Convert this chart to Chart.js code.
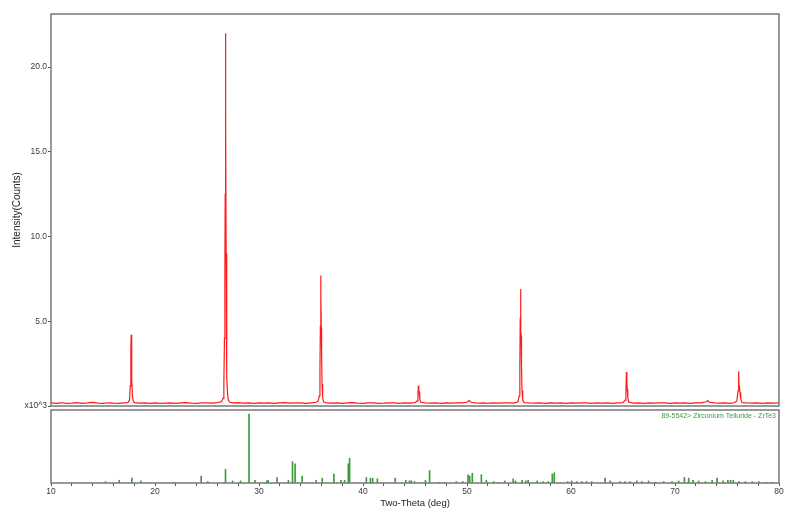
<!DOCTYPE html>
<html>
<head>
<meta charset="utf-8">
<script src="https://cdn.jsdelivr.net/npm/chart.js@4"></script>
<style>
  body { margin: 0; background: #fff; }
  #wrap { position: relative; width: 800px; height: 514px; }
  #topChart { position: absolute; left: 0; top: 0; }
  #bottomChart { position: absolute; left: 0; top: 408px; }
</style>
</head>
<body>
<div id="wrap">
  <canvas id="topChart" width="800" height="420"></canvas>
  <canvas id="bottomChart" width="800" height="106"></canvas>
</div>
<script>
// Measured pattern: two-theta (deg) and intensity (x10^3 counts)
const twoTheta = [
  10.0, 10.5, 11.0, 11.5, 12.0, 12.5, 13.0, 13.5, 14.0, 14.5, 15.0, 15.5, 16.0, 16.5, 17.0, 17.4,
  17.55, 17.62, 17.68, 17.71, 17.74, 17.78, 17.83, 17.9, 18.0,
  18.5, 19.0, 19.5, 20.0, 20.5, 21.0, 21.5, 22.0, 22.5, 23.0, 23.5, 24.0, 24.5, 25.0, 25.5, 26.0, 26.4,
  26.55, 26.62, 26.68, 26.72, 26.75, 26.77, 26.79, 26.81, 26.84, 26.87, 26.92, 26.98, 27.05, 27.2,
  27.5, 28.0, 28.5, 29.0, 29.5, 30.0, 30.5, 31.0, 31.5, 32.0, 32.5, 33.0, 33.5, 34.0, 34.5, 35.0, 35.5, 35.7,
  35.8, 35.86, 35.9, 35.93, 35.96, 35.99, 36.02, 36.06, 36.12, 36.2,
  36.5, 37.0, 37.5, 38.0, 38.5, 39.0, 39.5, 40.0, 40.5, 41.0, 41.5, 42.0, 42.5, 43.0, 43.5, 44.0, 44.5, 45.0, 45.2,
  45.28, 45.33, 45.37, 45.41, 45.46, 45.55,
  46.0, 46.5, 47.0, 47.5, 48.0, 48.5, 49.0, 49.5, 50.0, 50.2, 50.4, 50.8, 51.2, 51.6, 52.0, 52.5, 53.0, 53.5, 54.0, 54.5, 54.9,
  55.02, 55.08, 55.12, 55.15, 55.18, 55.21, 55.24, 55.29, 55.36, 55.5,
  56.0, 56.5, 57.0, 57.5, 58.0, 58.5, 59.0, 59.5, 60.0, 60.5, 61.0, 61.5, 62.0, 62.5, 63.0, 63.5, 64.0, 64.5, 65.0, 65.2,
  65.28, 65.33, 65.37, 65.41, 65.46, 65.55,
  66.0, 66.5, 67.0, 67.5, 68.0, 68.5, 69.0, 69.5, 70.0, 70.5, 71.0, 71.5, 72.0, 72.5, 73.0, 73.15, 73.3, 73.8, 74.3, 74.8, 75.3, 75.7, 75.95,
  76.06, 76.12, 76.16, 76.2, 76.25, 76.32, 76.45,
  76.9, 77.4, 77.9, 78.4, 78.9, 79.4, 80.0
];
const counts = [
  0.18, 0.16, 0.19, 0.15, 0.17, 0.20, 0.16, 0.18, 0.21, 0.17, 0.15, 0.19, 0.17, 0.16, 0.18, 0.20,
  0.35, 1.2, 3.3, 4.2, 3.4, 1.6, 0.6, 0.3, 0.2,
  0.17, 0.19, 0.16, 0.18, 0.15, 0.17, 0.19, 0.16, 0.18, 0.20, 0.17, 0.16, 0.19, 0.18, 0.17, 0.20, 0.26,
  0.45, 1.3, 4.0, 7.6, 12.5, 21.7, 22.0, 17.0, 9.0, 4.5, 1.8, 0.7, 0.35, 0.22,
  0.18, 0.20, 0.17, 0.19, 0.16, 0.18, 0.17, 0.19, 0.16, 0.18, 0.20, 0.17, 0.19, 0.18, 0.16, 0.19, 0.22, 0.30,
  0.6, 2.2, 4.7, 7.7, 6.5, 4.6, 3.0, 1.3, 0.5, 0.25,
  0.18, 0.17, 0.19, 0.16, 0.18, 0.20, 0.17, 0.16, 0.19, 0.18, 0.16, 0.17, 0.19, 0.18, 0.16, 0.18, 0.17, 0.20, 0.30,
  0.7, 1.2, 1.0, 0.8, 0.4, 0.22,
  0.18, 0.17, 0.19, 0.16, 0.18, 0.17, 0.19, 0.18, 0.22, 0.32, 0.22, 0.18, 0.17, 0.19, 0.16, 0.18, 0.17, 0.19, 0.18, 0.17, 0.25,
  0.6, 2.3, 5.2, 6.9, 4.0, 4.1, 2.3, 0.9, 0.35, 0.2,
  0.18, 0.17, 0.19, 0.16, 0.18, 0.17, 0.19, 0.16, 0.18, 0.17, 0.19, 0.18, 0.16, 0.18, 0.17, 0.19, 0.16, 0.18, 0.20, 0.35,
  0.9, 2.0, 1.4, 1.0, 0.5, 0.22,
  0.17, 0.19, 0.16, 0.18, 0.17, 0.19, 0.18, 0.16, 0.18, 0.17, 0.19, 0.16, 0.18, 0.19, 0.25, 0.32, 0.22, 0.18, 0.17, 0.19, 0.16, 0.19, 0.30,
  0.9, 2.05, 1.2, 1.05, 0.8, 0.4, 0.2,
  0.18, 0.17, 0.19, 0.16, 0.18, 0.17, 0.18
];

// Reference card 89-5542 ZrTe3: stick positions (deg) and relative intensity
const stickPos = [
  15.24, 16.56, 17.78, 18.65, 21.83, 24.44, 25.08, 26.78, 27.46, 28.23, 29.04, 29.61, 30.74, 30.87,
  31.74, 32.83, 33.22, 33.47, 34.15, 35.5, 36.08, 37.2, 37.88, 38.23, 38.59, 38.71, 40.32, 40.71,
  40.93, 41.38, 43.09, 44.12, 44.47, 44.63, 44.95, 46.01, 46.4, 47.3, 47.85, 48.97, 49.6, 50.1, 50.26,
  50.51, 51.38, 51.86, 52.57, 52.99, 53.63, 54.44, 54.66, 55.3, 55.66, 55.88, 56.75, 57.33, 57.81,
  58.2, 58.39, 59.68, 60.06, 60.55, 61.03, 61.51, 62.0, 63.28, 63.76, 64.73, 65.21, 65.69, 66.33,
  66.82, 67.46, 68.1, 68.91, 69.71, 70.35, 70.9, 71.32, 71.74, 72.28, 72.93, 73.57, 74.05, 74.63,
  75.08, 75.34, 75.6, 76.14, 76.78, 77.43, 78.07, 78.81, 79.36
];
const stickInt = [
  2, 4, 7, 3, 1, 10, 2, 20, 3, 3, 100, 4, 3, 4,
  8, 4, 31, 28, 10, 4, 7, 13, 4, 4, 28, 36, 8, 7,
  7, 6, 7, 4, 3, 3, 2, 4, 18, 1, 1, 2, 2, 12, 10,
  14, 12, 4, 2, 1, 3, 6, 3, 4, 3, 4, 3, 2, 2,
  13, 15, 2, 3, 2, 2, 2, 2, 7, 3, 2, 2, 2, 3,
  2, 3, 1, 2, 2, 3, 8, 7, 4, 3, 2, 4, 7, 3,
  4, 4, 4, 2, 2, 2, 2, 1, 1
];

const xTickLabels = [10, 20, 30, 40, 50, 60, 70, 80];
const yTickValues = [0, 5, 10, 15, 20];
const phaseName = '89-5542> Zirconium Telluride - ZrTe3';

const tickColor = '#3a3a3a';
const fontFamily = 'Arial, "Liberation Sans", sans-serif';

// draws the grey box round each plot area
const framePlugin = {
  id: 'frame',
  afterDraw(chart) {
    const a = chart.chartArea;
    const ctx = chart.ctx;
    ctx.save();
    ctx.strokeStyle = '#777';
    ctx.lineWidth = 1.5;
    ctx.strokeRect(a.left, a.top, a.right - a.left, a.bottom - a.top);
    ctx.restore();
  }
};

// phase name in the top right corner of the stick panel
const phaseLabelPlugin = {
  id: 'phaseLabel',
  afterDraw(chart) {
    const a = chart.chartArea;
    const ctx = chart.ctx;
    ctx.save();
    ctx.font = '7px ' + fontFamily;
    ctx.fillStyle = '#3c9a3c';
    ctx.textAlign = 'right';
    ctx.textBaseline = 'top';
    ctx.fillText(phaseName, a.right - 3, a.top + 3);
    ctx.restore();
  }
};

function makeTop() {
  const pts = twoTheta.map((t, i) => ({ x: t, y: counts[i] }));
  new Chart(document.getElementById('topChart'), {
    type: 'line',
    data: {
      datasets: [{
        data: pts,
        borderColor: '#ff1a1a',
        borderWidth: 1.2,
        pointRadius: 0,
        tension: 0,
        fill: false
      }]
    },
    options: {
      responsive: false,
      animation: false,
      devicePixelRatio: 1,
      // canvas runs 14px below the plot so the bottom tick label does not shift it
      layout: { padding: { top: 14, right: 21, bottom: 14, left: 0 } },
      plugins: { legend: { display: false }, tooltip: { enabled: false } },
      scales: {
        x: { type: 'linear', min: 10, max: 80, display: false },
        y: {
          min: 0,
          max: 23.13,
          afterFit: s => { s.width = 51; },
          afterBuildTicks: s => { s.ticks = yTickValues.map(v => ({ value: v })); },
          grid: { drawOnChartArea: false, drawTicks: true, tickLength: 3, color: '#555' },
          border: { display: false },
          ticks: {
            padding: 1,
            color: tickColor,
            font: { size: 8.5, family: fontFamily },
            callback: v => v === 0 ? 'x10^3' : v.toFixed(1)
          },
          title: {
            display: true,
            text: 'Intensity(Counts)',
            color: '#222',
            font: { size: 10, family: fontFamily },
            padding: { top: 11, bottom: 0 }
          }
        }
      }
    },
    plugins: [framePlugin]
  });
}

function makeBottom() {
  const sticks = stickPos.map((p, i) => ({ x: p, y: stickInt[i] }));
  new Chart(document.getElementById('bottomChart'), {
    type: 'bar',
    data: {
      datasets: [{
        data: sticks,
        backgroundColor: '#3a9c3a',
        borderWidth: 0,
        barThickness: 1,
        grouped: false
      }]
    },
    options: {
      responsive: false,
      animation: false,
      devicePixelRatio: 1,
      layout: { padding: { top: 2, right: 21, bottom: 0, left: 51 } },
      plugins: { legend: { display: false }, tooltip: { enabled: false } },
      scales: {
        x: {
          type: 'linear',
          min: 10,
          max: 80,
          offset: false,
          afterFit: s => { s.height = 31; },
          grid: { drawOnChartArea: false, drawTicks: true, tickLength: 3, color: '#555', offset: false },
          border: { display: false },
          ticks: {
            stepSize: 2,
            autoSkip: false,
            maxRotation: 0,
            padding: 1,
            color: tickColor,
            font: { size: 8.5, family: fontFamily },
            callback: v => xTickLabels.includes(v) ? String(v) : ''
          },
          title: {
            display: true,
            text: 'Two-Theta (deg)',
            color: '#222',
            font: { size: 9.5, family: fontFamily },
            padding: { top: 0, bottom: 5 }
          }
        },
        y: { min: 0, max: 106, display: false }
      }
    },
    plugins: [framePlugin, phaseLabelPlugin]
  });
}

window.onload = function() {
  makeTop();
  makeBottom();
};
</script>
</body>
</html>
